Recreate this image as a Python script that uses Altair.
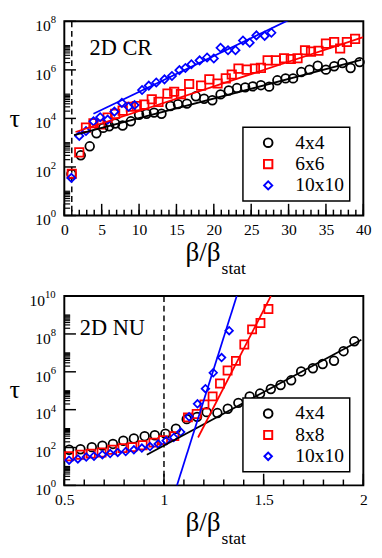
import altair as alt
import pandas as pd

FONT = "Liberation Serif, Times New Roman, serif"

# ---------------- Panel 1: 2D CR ----------------
cr_series = ["4x4", "6x6", "10x10"]
cr_4x4_x = [0.95, 2.2, 3.4, 4.3, 5.2, 6.0, 6.8, 7.8, 8.9, 10.0, 11.0, 12.0, 13.0, 14.2, 15.2,
            16.4, 17.6, 18.7, 19.8, 20.9, 22.0, 23.1, 24.2, 25.2, 26.3, 27.4, 28.5, 29.6,
            30.6, 31.7, 32.8, 33.9, 35.0, 36.1, 37.2, 38.3, 39.5]
cr_4x4_logtau = [1.71, 2.48, 2.85, 3.39, 3.61, 3.68, 3.79, 3.71, 3.88, 4.15, 4.19, 4.24, 4.19,
                 4.51, 4.59, 4.61, 4.91, 4.81, 4.75, 4.99, 5.15, 5.25, 5.28, 5.32, 5.37, 5.31,
                 5.57, 5.65, 5.65, 5.91, 6.01, 6.17, 6.01, 6.15, 6.28, 6.08, 6.32]
cr_6x6_x = [1.0, 2.0, 2.9, 3.9, 4.8, 5.8, 6.8, 7.8, 8.9, 9.7, 10.7, 11.7, 12.6, 13.8, 14.7,
            15.6, 16.7, 18.3, 19.4, 20.5, 21.6, 22.4, 23.3, 24.4, 25.5, 26.3, 27.2, 28.3,
            29.4, 30.3, 31.2, 32.2, 33.0, 34.0, 35.0, 36.1, 36.9, 37.8, 38.9]
cr_6x6_logtau = [1.72, 2.6, 3.62, 3.8, 3.75, 4.03, 4.19, 4.32, 4.48, 4.51, 4.57, 4.79, 4.68,
                 5.02, 5.1, 5.0, 5.42, 5.35, 5.61, 5.44, 5.65, 5.81, 6.05, 6.01, 6.05, 6.08,
                 6.39, 6.39, 6.48, 6.45, 6.48, 6.81, 6.75, 6.79, 7.08, 7.15, 6.88, 7.15, 7.28]
cr_10x10_x = [0.95, 2.0, 2.9, 3.9, 4.8, 5.8, 6.7, 7.7, 8.6, 9.4, 10.4, 11.3, 12.3, 13.4, 14.4,
              15.4, 16.2, 17.0, 18.1, 19.1, 20.0, 20.9, 21.9, 22.9, 23.9, 24.8, 25.7, 26.8, 27.7]
cr_10x10_logtau = [1.55, 3.28, 3.48, 3.88, 4.05, 3.95, 4.28, 4.64, 4.48, 4.55, 5.17, 5.35, 5.48,
                   5.61, 5.75, 5.99, 6.08, 6.23, 6.39, 6.51, 6.47, 6.91, 6.81, 6.81, 7.21, 7.12,
                   7.42, 7.4, 7.53]
cr_fit_4x4_x = [1.3, 39.7]
cr_fit_4x4_logtau = [3.31, 6.41]
cr_fit_6x6_x = [1.5, 40.0]
cr_fit_6x6_logtau = [3.44, 7.35]
cr_fit_10x10_x = [3.9, 30.2]
cr_fit_10x10_logtau = [4.19, 8.08]
cr_xlabels = [0, 5, 10, 15, 20, 25, 30, 35, 40]
cr_xminor = list(range(0, 41))
cr_ydecades = [0, 2, 4, 6, 8]

# ---------------- Panel 2: 2D NU ----------------
nu_series = ["4x4", "8x8", "10x10"]
nu_4x4_x = [0.524, 0.581, 0.638, 0.691, 0.744, 0.796, 0.849, 0.903, 0.954, 1.007, 1.060,
            1.114, 1.166, 1.214, 1.268, 1.320, 1.373, 1.430, 1.482, 1.536, 1.585, 1.638,
            1.688, 1.747, 1.796, 1.853, 1.901, 1.955]
nu_4x4_logtau = [1.88, 1.91, 2.02, 2.10, 2.19, 2.36, 2.48, 2.60, 2.65, 2.73, 2.99, 3.50, 3.62,
                 3.87, 3.82, 4.05, 4.36, 4.70, 4.85, 5.09, 5.30, 5.55, 6.02, 6.19, 6.41, 6.58,
                 7.09, 7.61]
nu_8x8_x = [0.524, 0.581, 0.633, 0.687, 0.740, 0.792, 0.841, 0.893, 0.947, 0.995, 1.052,
            1.120, 1.164, 1.203, 1.244, 1.281, 1.319, 1.361, 1.403, 1.442, 1.484, 1.524]
nu_8x8_logtau = [1.54, 1.62, 1.68, 1.74, 1.88, 1.97, 2.02, 2.12, 2.26, 2.39, 2.60, 3.59, 3.77,
                 4.27, 4.70, 5.38, 6.07, 6.58, 7.44, 8.24, 8.58, 9.32]
nu_10x10_x = [0.524, 0.568, 0.610, 0.649, 0.691, 0.730, 0.768, 0.808, 0.849, 0.889, 0.930,
              0.971, 1.011, 1.049, 1.084, 1.126, 1.168, 1.208, 1.247, 1.289, 1.327]
nu_10x10_logtau = [1.33, 1.40, 1.50, 1.54, 1.62, 1.68, 1.74, 1.79, 1.88, 1.97, 2.05, 2.19,
                   2.36, 2.53, 2.82, 3.62, 4.31, 5.11, 5.95, 6.75, 8.17]
nu_fit_4x4_x = [0.914, 1.99]
nu_fit_4x4_logtau = [1.62, 7.69]
nu_fit_8x8_x = [1.171, 1.536]
nu_fit_8x8_logtau = [2.53, 10.0]
nu_fit_10x10_x = [1.065, 1.365]
nu_fit_10x10_logtau = [0.0, 10.0]
nu_xlabels = [0.5, 1.0, 1.5, 2.0]
nu_xminor = [0.5, 0.6, 0.7, 0.8, 0.9, 1.0, 1.1, 1.2, 1.3, 1.4, 1.5, 1.6, 1.7, 1.8, 1.9, 2.0]
nu_ydecades = [0, 2, 4, 6, 8, 10]

beta_stat = [1.0]
minor_mult = [2, 3, 4, 5, 6, 7, 8, 9, 10]
COLORS = ["black", "red", "blue"]
SHAPES = ["circle", "square", "diamond"]


def points_df(series, xs_list, logs_list):
    rows = []
    for name, xs, ls in zip(series, xs_list, logs_list):
        for x, l in zip(xs, ls):
            rows.append({"series": name, "x": x, "tau": 10 ** l})
    return pd.DataFrame(rows)


def panel(pts, fits, series, xdom, xlabels, xminor, xfmt, ydecades, w, h,
          tag, tag_xy, leg_xy, tau_y, sizes):
    xs = alt.Scale(domain=xdom, nice=False, zero=False)
    ys = alt.Scale(type="log", domain=[1, 10 ** ydecades[-1]], nice=False)
    X = alt.X("x:Q", scale=xs, axis=alt.Axis(values=xlabels, ticks=False, domain=False,
                                             grid=False, labelFont=FONT, labelFontSize=16,
                                             labelColor="black", labelPadding=7,
                                             labelFlush=False, format=xfmt, title=None))
    Y = alt.Y("tau:Q", scale=ys, axis=None)
    leg = alt.Legend(title=None, orient="none", legendX=leg_xy[0], legendY=leg_xy[1])

    layers = []
    layers.append(alt.Chart(pd.DataFrame({"x": beta_stat})).mark_rule(
        color="black", strokeWidth=1.5, strokeDash=[6, 4]).encode(x=X))
    layers.append(alt.Chart(pts).mark_point(filled=False, strokeWidth=1.8, opacity=1).encode(
        x=X, y=Y,
        color=alt.Color("series:N", scale=alt.Scale(domain=series, range=COLORS), legend=leg),
        shape=alt.Shape("series:N", scale=alt.Scale(domain=series, range=SHAPES), legend=leg),
        size=alt.Size("series:N", scale=alt.Scale(domain=series, range=sizes), legend=None),
    ))
    for (fx, fl), col in zip(fits, COLORS):
        fdf = pd.DataFrame({"x": fx, "tau": [10 ** v for v in fl]})
        layers.append(alt.Chart(fdf).mark_line(color=col, strokeWidth=1.8, clip=True).encode(x=X, y=Y))

    # ticks (inside)
    maj = pd.DataFrame({"x": xlabels})
    mnr = pd.DataFrame({"x": xminor})
    layers.append(alt.Chart(mnr).mark_rule(color="black", strokeWidth=1.5).encode(
        x=X, y=alt.value(h), y2=alt.value(h - 6)))
    layers.append(alt.Chart(maj).mark_rule(color="black", strokeWidth=1.5).encode(
        x=X, y=alt.value(h), y2=alt.value(h - 12)))
    ymaj = pd.DataFrame({"tau": [10 ** d for d in ydecades]})
    ymin = pd.DataFrame({"tau": [m * 10 ** d for d in ydecades[:-1] for m in minor_mult]})
    layers.append(alt.Chart(ymin).mark_rule(color="black", strokeWidth=1.2).encode(
        y=Y, x=alt.value(0), x2=alt.value(6)))
    layers.append(alt.Chart(ymaj).mark_rule(color="black", strokeWidth=1.5).encode(
        y=Y, x=alt.value(0), x2=alt.value(12)))

    # y tick labels 10^n
    ylab = pd.DataFrame({"tau": [10 ** d for d in ydecades], "e": [str(d) for d in ydecades]})
    for flt, xr in (("length(datum.e) == 1", -14), ("length(datum.e) == 2", -20)):
        base = alt.Chart(ylab).transform_filter(flt)
        layers.append(base.mark_text(align="right", baseline="middle", dy=5, fontSize=16,
                                     font=FONT, color="black", text="10").encode(
            y=Y, x=alt.value(xr)))
        layers.append(base.mark_text(align="left", baseline="middle", dy=-1, fontSize=11,
                                     font=FONT, color="black").encode(
            y=Y, x=alt.value(xr), text="e:N"))

    # annotations
    txt = pd.DataFrame({"t": [tag]})
    layers.append(alt.Chart(txt).mark_text(align="left", baseline="alphabetic", fontSize=23,
                                           font=FONT, color="black").encode(
        text="t:N", x=alt.value(tag_xy[0]), y=alt.value(tag_xy[1])))
    layers.append(alt.Chart(pd.DataFrame({"t": ["τ"]})).mark_text(
        align="center", baseline="middle", fontSize=27, font=FONT, color="black").encode(
        text="t:N", x=alt.value(-51), y=alt.value(tau_y)))
    layers.append(alt.Chart(pd.DataFrame({"t": ["β/β"]})).mark_text(
        align="right", baseline="alphabetic", fontSize=28, font=FONT, color="black").encode(
        text="t:N", x=alt.value(161), y=alt.value(h + 47)))
    layers.append(alt.Chart(pd.DataFrame({"t": ["stat"]})).mark_text(
        align="left", baseline="alphabetic", fontSize=18, font=FONT, color="black").encode(
        text="t:N", x=alt.value(162), y=alt.value(h + 60)))

    return alt.layer(*layers).properties(width=w, height=h)


cr_pts = points_df(cr_series, [cr_4x4_x, cr_6x6_x, cr_10x10_x],
                   [cr_4x4_logtau, cr_6x6_logtau, cr_10x10_logtau])
nu_pts = points_df(nu_series, [nu_4x4_x, nu_8x8_x, nu_10x10_x],
                   [nu_4x4_logtau, nu_8x8_logtau, nu_10x10_logtau])

top = panel(cr_pts,
            [(cr_fit_4x4_x, cr_fit_4x4_logtau), (cr_fit_6x6_x, cr_fit_6x6_logtau),
             (cr_fit_10x10_x, cr_fit_10x10_logtau)],
            cr_series, [0, 40], cr_xlabels, cr_xminor, "d", cr_ydecades, 308, 200,
            "2D CR", (26, 35), (184, 109), 101, [80, 70, 70])
bottom = panel(nu_pts,
               [(nu_fit_4x4_x, nu_fit_4x4_logtau), (nu_fit_8x8_x, nu_fit_8x8_logtau),
                (nu_fit_10x10_x, nu_fit_10x10_logtau)],
               nu_series, [0.5, 2.0], nu_xlabels, nu_xminor, "~g", nu_ydecades, 308, 195,
               "2D NU", (16, 40), (184, 105), 97, [80, 60, 65])

chart = alt.vconcat(top, bottom, spacing=83, bounds="flush").resolve_scale(
    color="independent", shape="independent", size="independent",
    x="independent", y="independent"
).resolve_legend(color="independent", shape="independent").configure_view(
    stroke="black", strokeWidth=2
).configure_legend(
    strokeColor="black", strokeWidth=1.5, fillColor="white", padding=6, rowPadding=2,
    labelFont=FONT, labelFontSize=20, labelColor="black", symbolSize=40,
    symbolStrokeWidth=2, symbolOffset=10, labelOffset=18
).properties(padding={"left": 0, "top": -2.5, "right": 2, "bottom": 0}, background="white")

chart.save("out.html", embed_options={"renderer": "svg", "actions": False})
